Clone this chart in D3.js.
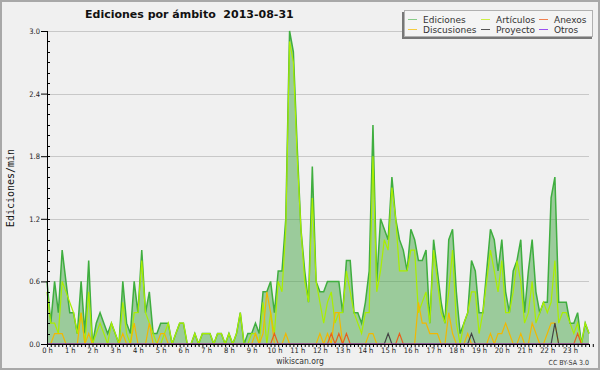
<!DOCTYPE html>
<html>
<head>
<meta charset="utf-8">
<title>Ediciones por ámbito</title>
<script src="https://cdn.jsdelivr.net/npm/d3@7"></script>
<style>
  html, body { margin: 0; padding: 0; background: #f0f0f0; }
  svg { display: block; }
  .tick text { font-family: "DejaVu Sans Condensed", "DejaVu Sans", sans-serif; font-size: 7.5px; fill: #222; }
</style>
</head>
<body>
<script>
// one value per 10 minutes, edits per minute
var ediciones = [
  .6,.2,.6,.3,.9,.6, .3,.3,.1,.6,.1,.8,
  0,.2,.3,.2,.1,.2, .1,0,.6,.2,.1,.6,
  .3,.9,.3,.5,.1,.1, .2,.2,.2,0,.1,.2,
  .2,0,0,.1,0,.1, .1,.1,0,.1,.1,0,
  .1,0,.1,.3,0,.1, .1,.2,.1,.5,.5,.6,
  .3,.7,.7,1.2,3.0,2.8, 1.9,1.1,.7,.4,1.7,.6,
  .5,.5,.6,.6,.6,.6, .3,.8,.8,.3,.3,.2,
  .4,.7,2.1,.6,1.2,1.1, 1.0,1.6,1.2,1.0,.9,.7,
  1.1,1.0,.8,.8,.9,.2, 1.0,.7,.4,.2,1.0,1.1,
  .5,.1,.2,.3,.8,.7, .3,.3,.7,1.1,1.0,.7,
  1.0,.5,.3,.7,.8,1.0, .3,.7,1.0,.5,.3,.4,
  .4,1.4,1.6,.4,.4,.4, .2,.2,.3,0,.2,.1
];
var articulos = [
  .5,.2,.2,.1,.6,.5, .4,.3,.1,.3,0,.5,
  0,.1,.2,.1,0,.2, .1,0,.4,.1,0,.3,
  .3,.8,.3,.2,.1,0, 0,.1,.2,0,.1,.2,
  .2,0,0,.1,0,.1, .1,.1,0,.1,.1,0,
  .1,0,.1,.3,0,0, .1,.1,0,.4,0,.3,
  .1,.6,.5,1.1,2.9,2.7, 1.8,1.1,.6,.4,1.4,.6,
  .4,.2,.4,.5,.2,.3, .3,.7,.5,.3,.2,.1,
  .3,.3,1.8,.5,.7,1.0, .9,1.5,1.2,.7,.7,.7,
  .9,.9,.3,.4,.5,.2, .9,.6,.3,.2,.5,.9,
  .2,0,.2,.3,.5,.5, .1,.3,.6,.9,.7,.5,
  .8,.3,.3,.5,.8,.6, .2,.3,.6,.2,.3,.4,
  .3,.4,.8,.2,.3,.3, .2,.1,.2,0,.2,.1
];
var discusiones = [
  0,0,.1,.1,.1,0, 0,0,0,.3,0,.1,
  0,0,0,0,0,0, 0,0,.1,0,0,.2,
  0,0,0,.2,0,0, .1,.1,0,0,0,0,
  0,0,0,0,0,0, 0,0,0,0,0,0,
  0,0,0,0,0,0, 0,.1,0,.1,.5,.3,
  0,0,0,.1,0,0, 0,0,0,0,0,0,
  .1,0,.1,0,.3,.3, 0,0,0,0,0,0,
  0,.1,.1,0,0,0, 0,0,0,0,0,0,
  0,0,.4,.2,.2,.1, .1,.1,0,0,.3,.1,
  0,0,0,.1,0,0, 0,0,0,.1,0,.1,
  .1,.2,.1,0,0,.1, 0,0,.2,.1,0,0,
  .1,.2,.2,0,0,0, 0,0,0,0,0,0
];
var anexos = [
  0,0,0,0,0,0, 0,0,0,0,0,0,
  0,0,0,0,0,0, 0,0,0,0,0,0,
  0,0,0,0,0,0, 0,0,0,0,0,0,
  0,0,0,0,0,0, 0,0,0,0,0,0,
  0,0,0,0,0,0, 0,0,0,0,0,0,
  .1,0,0,0,0,0, 0,0,0,0,0,0,
  0,0,0,.1,0,.1, 0,.1,0,0,0,0,
  0,0,0,0,0,0, 0,0,0,.1,0,0,
  0,0,0,0,0,0, 0,0,0,0,0,0,
  0,0,0,0,0,0, 0,0,0,0,0,0,
  0,0,0,0,0,0, 0,0,0,0,0,0,
  0,0,0,0,0,0, 0,0,.1,0,0,0
];
var proyecto = [
  0,0,0,0,0,0, 0,0,0,0,0,0,
  0,0,0,0,0,0, 0,0,0,0,0,0,
  0,0,0,0,0,0, 0,0,0,0,0,0,
  0,0,0,0,0,0, 0,0,0,0,0,0,
  0,0,0,0,0,0, 0,0,0,0,0,0,
  0,0,0,0,0,0, 0,0,0,0,0,0,
  0,0,0,0,0,0, 0,0,0,0,0,0,
  0,0,0,0,0,0, .1,0,0,0,0,0,
  0,0,0,0,0,0, 0,0,0,0,0,0,
  0,0,0,0,.1,0, 0,0,0,0,0,0,
  0,0,0,0,0,0, 0,0,0,0,0,0,
  0,0,.2,0,0,0, 0,0,0,0,0,0
];
var otros = [
  0,0,0,0,0,0, 0,0,0,0,0,0,
  0,0,0,0,0,0, 0,0,0,0,0,0,
  0,0,0,0,0,0, 0,0,0,0,0,0,
  0,0,0,0,0,0, 0,0,0,0,0,0,
  0,0,0,0,0,0, 0,0,0,0,0,0,
  0,0,0,0,0,0, 0,0,0,0,0,0,
  0,0,0,0,0,0, 0,0,0,0,0,0,
  0,0,0,0,0,0, 0,0,0,0,0,0,
  0,0,0,0,0,0, 0,0,0,0,0,0,
  0,0,0,0,0,0, 0,0,0,0,0,0,
  0,0,0,0,0,0, 0,0,0,0,0,0,
  0,0,0,0,0,0, 0,0,0,0,0,0
];
var hourLabels = ["0 h","1 h","2 h","3 h","4 h","5 h","6 h","7 h","8 h","9 h","10 h","11 h",
                  "12 h","13 h","14 h","15 h","16 h","17 h","18 h","19 h","20 h","21 h","22 h","23 h"];
var yTicks = [0, 0.6, 1.2, 1.8, 2.4, 3.0];

var series = [
    {name: "Artículos", values: articulos, color: "#aaee00"},
    {name: "Discusiones", values: discusiones, color: "#f2b800"},
    {name: "Anexos", values: anexos, color: "#e8601c"},
    {name: "Proyecto", values: proyecto, color: "#444444"},
    {name: "Otros", values: otros, color: "#9040e0"}
];

var legendItems = [
    {name: "Ediciones", color: "#88cc88"},
    {name: "Artículos", color: "#ccee44"},
    {name: "Anexos", color: "#f08050"},
    {name: "Discusiones", color: "#f5cc40"},
    {name: "Proyecto", color: "#555555"},
    {name: "Otros", color: "#9a50f0"}
];

var w = 600, h = 370,
    plotLeft = 47, plotRight = 589, plotTop = 31, plotBottom = 344;

var x = d3.scaleLinear().domain([0, ediciones.length - 1]).range([plotLeft, plotRight]);
var y = d3.scaleLinear().domain([0, 3]).range([plotBottom, plotTop]);

var svg = d3.select("body").append("svg")
    .attr("width", w)
    .attr("height", h);

svg.append("rect")
    .attr("x", 1).attr("y", 1)
    .attr("width", w - 2).attr("height", h - 2)
    .attr("fill", "#f0f0f0")
    .attr("stroke", "#a8a8a8")
    .attr("stroke-width", 2);

// grid
svg.append("g").selectAll("line")
    .data(yTicks.slice(1))
    .enter().append("line")
    .attr("x1", plotLeft).attr("x2", plotRight)
    .attr("y1", function (d) {return Math.round(y(d)) + 0.5;})
    .attr("y2", function (d) {return Math.round(y(d)) + 0.5;})
    .attr("stroke", "#c8c8c8")
    .attr("stroke-width", 1);

var area = d3.area()
    .x(function (d, i) {return x(i);})
    .y0(y(0))
    .y1(function (d) {return y(d);});

var line = d3.line()
    .x(function (d, i) {return x(i);})
    .y(function (d) {return y(d);});

svg.append("path")
    .datum(ediciones)
    .attr("d", area)
    .attr("fill", "#46a646")
    .attr("fill-opacity", 0.5);

svg.append("path")
    .datum(ediciones)
    .attr("d", line)
    .attr("fill", "none")
    .attr("stroke", "#3fae3f")
    .attr("stroke-width", 1.5);

series.forEach(function (s) {
    svg.append("path")
        .datum(s.values)
        .attr("d", line)
        .attr("fill", "none")
        .attr("stroke", s.color)
        .attr("stroke-width", 1.2);
});

// axes
var xAxis = d3.axisBottom(x)
    .tickValues(d3.range(0, ediciones.length + 1))
    .tickSize(3)
    .tickPadding(1)
    .tickFormat(function (d) {return d % 6 === 0 && d / 6 < hourLabels.length ? hourLabels[d / 6] : "";});

svg.append("g")
    .attr("transform", "translate(0," + plotBottom + ")")
    .call(xAxis)
    .call(function (g) {
        g.select(".domain").attr("stroke", "#000").attr("d", "M" + plotLeft + ",0.5H" + plotRight);
        g.selectAll(".tick line").attr("stroke", "#000");
    });

var yAxis = d3.axisLeft(y)
    .tickValues(yTicks)
    .tickSize(6)
    .tickPadding(1)
    .tickFormat(d3.format(".1f"));

svg.append("g")
    .attr("transform", "translate(" + plotLeft + ",0)")
    .call(yAxis)
    .call(function (g) {
        g.select(".domain").attr("stroke", "#000").attr("d", "M0.5," + plotTop + "V" + plotBottom);
        g.selectAll(".tick line").attr("stroke", "#000");
    });

// minor ticks every 0.1 on the inside
svg.append("g").selectAll("line")
    .data(d3.range(1, 30))
    .enter().append("line")
    .attr("x1", plotLeft).attr("x2", plotLeft + 3)
    .attr("y1", function (d) {return Math.round(y(d / 10)) + 0.5;})
    .attr("y2", function (d) {return Math.round(y(d / 10)) + 0.5;})
    .attr("stroke", "#000");

// texts
svg.append("text")
    .attr("x", 85).attr("y", 18)
    .attr("font-family", "DejaVu Sans, sans-serif")
    .attr("font-weight", "bold")
    .attr("font-size", 11)
    .attr("fill", "#111")
    .style("white-space", "pre")
    .text("Ediciones por ámbito  2013-08-31");

svg.append("text")
    .attr("transform", "translate(14,188) rotate(-90)")
    .attr("text-anchor", "middle")
    .attr("font-family", "DejaVu Sans Mono, monospace")
    .attr("font-size", 10)
    .attr("fill", "#111")
    .text("Ediciones/min");

svg.append("text")
    .attr("x", 300).attr("y", 364)
    .attr("text-anchor", "middle")
    .attr("font-family", "DejaVu Sans Condensed, DejaVu Sans, sans-serif")
    .attr("font-size", 8.5)
    .attr("fill", "#333")
    .text("wikiscan.org");

svg.append("text")
    .attr("x", 589).attr("y", 365)
    .attr("text-anchor", "end")
    .attr("font-family", "DejaVu Sans Condensed, DejaVu Sans, sans-serif")
    .attr("font-size", 7)
    .attr("fill", "#333")
    .text("CC BY-SA 3.0");

// legend
var lg = svg.append("g");
lg.append("rect")
    .attr("x", 402).attr("y", 12).attr("width", 190).attr("height", 27)
    .attr("fill", "#777");
lg.append("rect")
    .attr("x", 404.5).attr("y", 10.5).attr("width", 188).attr("height", 26)
    .attr("fill", "#f4f4f4")
    .attr("stroke", "#b0b0b0");

var colX = [408, 481, 539];
var item = lg.selectAll("g.item")
    .data(legendItems)
    .enter().append("g")
    .attr("class", "item")
    .attr("transform", function (d, i) {
        return "translate(" + colX[i % 3] + "," + (i < 3 ? 19.5 : 29.5) + ")";
    });
item.append("line")
    .attr("x1", 0).attr("x2", 9)
    .attr("stroke", function (d) {return d.color;})
    .attr("stroke-width", 1);
item.append("text")
    .attr("x", 15).attr("y", 3)
    .attr("font-family", "DejaVu Sans, sans-serif")
    .attr("font-size", 9)
    .attr("fill", "#333")
    .text(function (d) {return d.name;});
</script>
</body>
</html>
